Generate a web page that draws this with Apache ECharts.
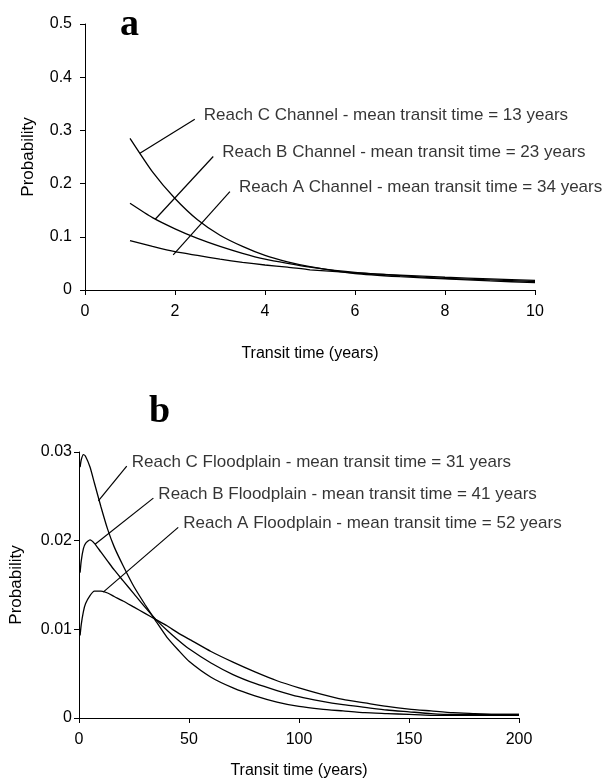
<!DOCTYPE html>
<html>
<head>
<meta charset="utf-8">
<title>Transit time probability</title>
<script src="https://cdn.jsdelivr.net/npm/echarts@6/dist/echarts.min.js"></script>
<style>
  html, body { margin: 0; padding: 0; background: #fff; }
  #chart { width: 602px; height: 780px; }
</style>
</head>
<body>
<div id="chart"></div>
<script>
// panel a - channel
const channelYears = [1, 1.5, 2, 2.5, 3, 3.5, 4, 4.5, 5, 6, 7, 8, 9, 10]
const channelC = [0.285, 0.222, 0.172, 0.132, 0.103, 0.082, 0.065, 0.053, 0.044, 0.031, 0.025, 0.021, 0.017, 0.014]
const channelB = [0.163, 0.136, 0.115, 0.097, 0.082, 0.069, 0.058, 0.050, 0.043, 0.033, 0.027, 0.022, 0.019, 0.016]
const channelA = [0.093, 0.082, 0.072, 0.065, 0.058, 0.052, 0.047, 0.043, 0.038, 0.032, 0.028, 0.024, 0.021, 0.018]

// panel b - floodplain
const floodYears = [0.5, 1, 2, 3, 5, 7, 10, 13, 16, 20, 25, 30, 35, 40, 45, 50, 60, 70, 80, 90, 100, 110, 120, 130, 140, 150, 160, 170, 180, 190, 200]
const floodC = [0.0283, 0.0291, 0.0297, 0.0295, 0.0283, 0.0265, 0.0238, 0.0213, 0.0193, 0.0172, 0.0148, 0.0128, 0.0109, 0.0091, 0.0077, 0.0064, 0.0046, 0.0034, 0.0025, 0.0018, 0.0013, 0.0010, 0.0008, 0.0006, 0.0005, 0.0004, 0.0003, 0.0003, 0.0003, 0.0003, 0.0003]
const floodB = [0.0164, 0.0177, 0.0191, 0.0197, 0.0201, 0.0197, 0.0187, 0.0177, 0.0167, 0.0155, 0.0140, 0.0125, 0.0111, 0.0099, 0.0088, 0.0078, 0.0062, 0.0049, 0.0039, 0.0031, 0.0024, 0.0019, 0.0015, 0.0012, 0.0009, 0.0007, 0.0005, 0.0004, 0.0004, 0.0004, 0.0004]
const floodA = [0.0093, 0.0105, 0.0120, 0.0129, 0.0138, 0.0143, 0.0143, 0.0141, 0.0137, 0.0132, 0.0125, 0.0118, 0.0111, 0.0104, 0.0096, 0.0089, 0.0075, 0.0063, 0.0052, 0.0042, 0.0034, 0.0027, 0.0021, 0.0017, 0.0013, 0.0010, 0.0008, 0.0006, 0.0005, 0.0004, 0.0004]

// annotation text + leader lines (data coords: [curve end, label end])
const channelLabels = [
  'Reach C Channel - mean transit time = 13 years',
  'Reach B Channel - mean transit time = 23 years',
  'Reach A Channel - mean transit time = 34 years'
]
const channelLeaders = [
  [[1.22, 0.257], [2.44, 0.321]],
  [[1.56, 0.133], [2.85, 0.251]],
  [[1.96, 0.066], [3.22, 0.185]]
]
const floodLabels = [
  'Reach C Floodplain - mean transit time = 31 years',
  'Reach B Floodplain - mean transit time = 41 years',
  'Reach A Floodplain - mean transit time = 52 years'
]
const floodLeaders = [
  [[8.8, 0.0245], [21.7, 0.0284]],
  [[7.3, 0.0196], [33.8, 0.0248]],
  [[11.0, 0.0142], [45.1, 0.0215]]
]

const FONT = 'Liberation Sans'

function pairs(xs, ys) {
  return xs.map((x, i) => [x, ys[i]])
}

function curve(name, idx, xs, ys) {
  return {
    name: name,
    type: 'line',
    xAxisIndex: idx,
    yAxisIndex: idx,
    data: pairs(xs, ys),
    showSymbol: false,
    symbol: 'none',
    smooth: 0.2,
    silent: true,
    lineStyle: { color: '#000', width: 1.3 }
  }
}

function leader(idx, seg) {
  return {
    type: 'line',
    xAxisIndex: idx,
    yAxisIndex: idx,
    data: seg,
    symbol: 'none',
    silent: true,
    lineStyle: { color: '#000', width: 1.2 }
  }
}

function labels(idx, leaders, texts, dist) {
  return {
    type: 'scatter',
    xAxisIndex: idx,
    yAxisIndex: idx,
    symbolSize: 0,
    silent: true,
    data: leaders.map((seg, i) => ({ value: seg[1], name: texts[i] })),
    label: {
      show: true,
      position: 'right',
      distance: dist,
      offset: [0, -4],
      formatter: p => p.name,
      color: '#000',
      fontFamily: FONT,
      fontSize: 17
    }
  }
}

function xAxisCfg(idx, max, interval, nameGap) {
  return {
    gridIndex: idx,
    type: 'value',
    min: 0,
    max: max,
    interval: interval,
    name: 'Transit time (years)',
    nameLocation: 'middle',
    nameGap: nameGap,
    nameTextStyle: { color: '#000', fontFamily: FONT, fontSize: 16 },
    axisLine: { onZero: false, lineStyle: { color: '#000', width: 1 } },
    axisTick: { show: true, length: 5, lineStyle: { color: '#000' } },
    axisLabel: { color: '#000', fontFamily: FONT, fontSize: 16, margin: 14 },
    splitLine: { show: false }
  }
}

function yAxisCfg(idx, max, interval, nameGap, margin) {
  return {
    gridIndex: idx,
    type: 'value',
    min: 0,
    max: max,
    interval: interval,
    name: 'Probability',
    nameLocation: 'middle',
    nameRotate: 90,
    nameGap: nameGap,
    nameTextStyle: { color: '#000', fontFamily: FONT, fontSize: 17 },
    axisLine: { show: true, lineStyle: { color: '#000', width: 1 } },
    axisTick: { show: true, length: 5, lineStyle: { color: '#000' } },
    axisLabel: { color: '#000', fontFamily: FONT, fontSize: 16, margin: margin },
    splitLine: { show: false }
  }
}

const chart = echarts.init(document.getElementById('chart'), null, { renderer: 'canvas' })

const option = {
  backgroundColor: '#fff',
  animation: false,
  title: [
    {
      text: 'a', left: 120, top: 6, padding: 0,
      textStyle: { fontFamily: 'Liberation Serif', fontWeight: 'bold', fontSize: 38, color: '#000' }
    },
    {
      text: 'b', left: 149, top: 393, padding: 0,
      textStyle: { fontFamily: 'Liberation Serif', fontWeight: 'bold', fontSize: 38, color: '#000' }
    }
  ],
  grid: [
    { left: 85, right: 67, top: 24, height: 266 },
    { left: 79, right: 83, top: 452, height: 267 }
  ],
  xAxis: [
    xAxisCfg(0, 10, 2, 56),
    xAxisCfg(1, 200, 50, 45)
  ],
  yAxis: [
    yAxisCfg(0, 0.5, 0.1, 48, 13),
    yAxisCfg(1, 0.03, 0.01, 54, 7)
  ],
  series: [
    curve('Reach C Channel', 0, channelYears, channelC),
    curve('Reach B Channel', 0, channelYears, channelB),
    curve('Reach A Channel', 0, channelYears, channelA),
    curve('Reach C Floodplain', 1, floodYears, floodC),
    curve('Reach B Floodplain', 1, floodYears, floodB),
    curve('Reach A Floodplain', 1, floodYears, floodA)
  ]
    .concat(channelLeaders.map(seg => leader(0, seg)))
    .concat(floodLeaders.map(seg => leader(1, seg)))
    .concat([labels(0, channelLeaders, channelLabels, 9), labels(1, floodLeaders, floodLabels, 5)])
}

chart.setOption(option)
</script>
</body>
</html>
